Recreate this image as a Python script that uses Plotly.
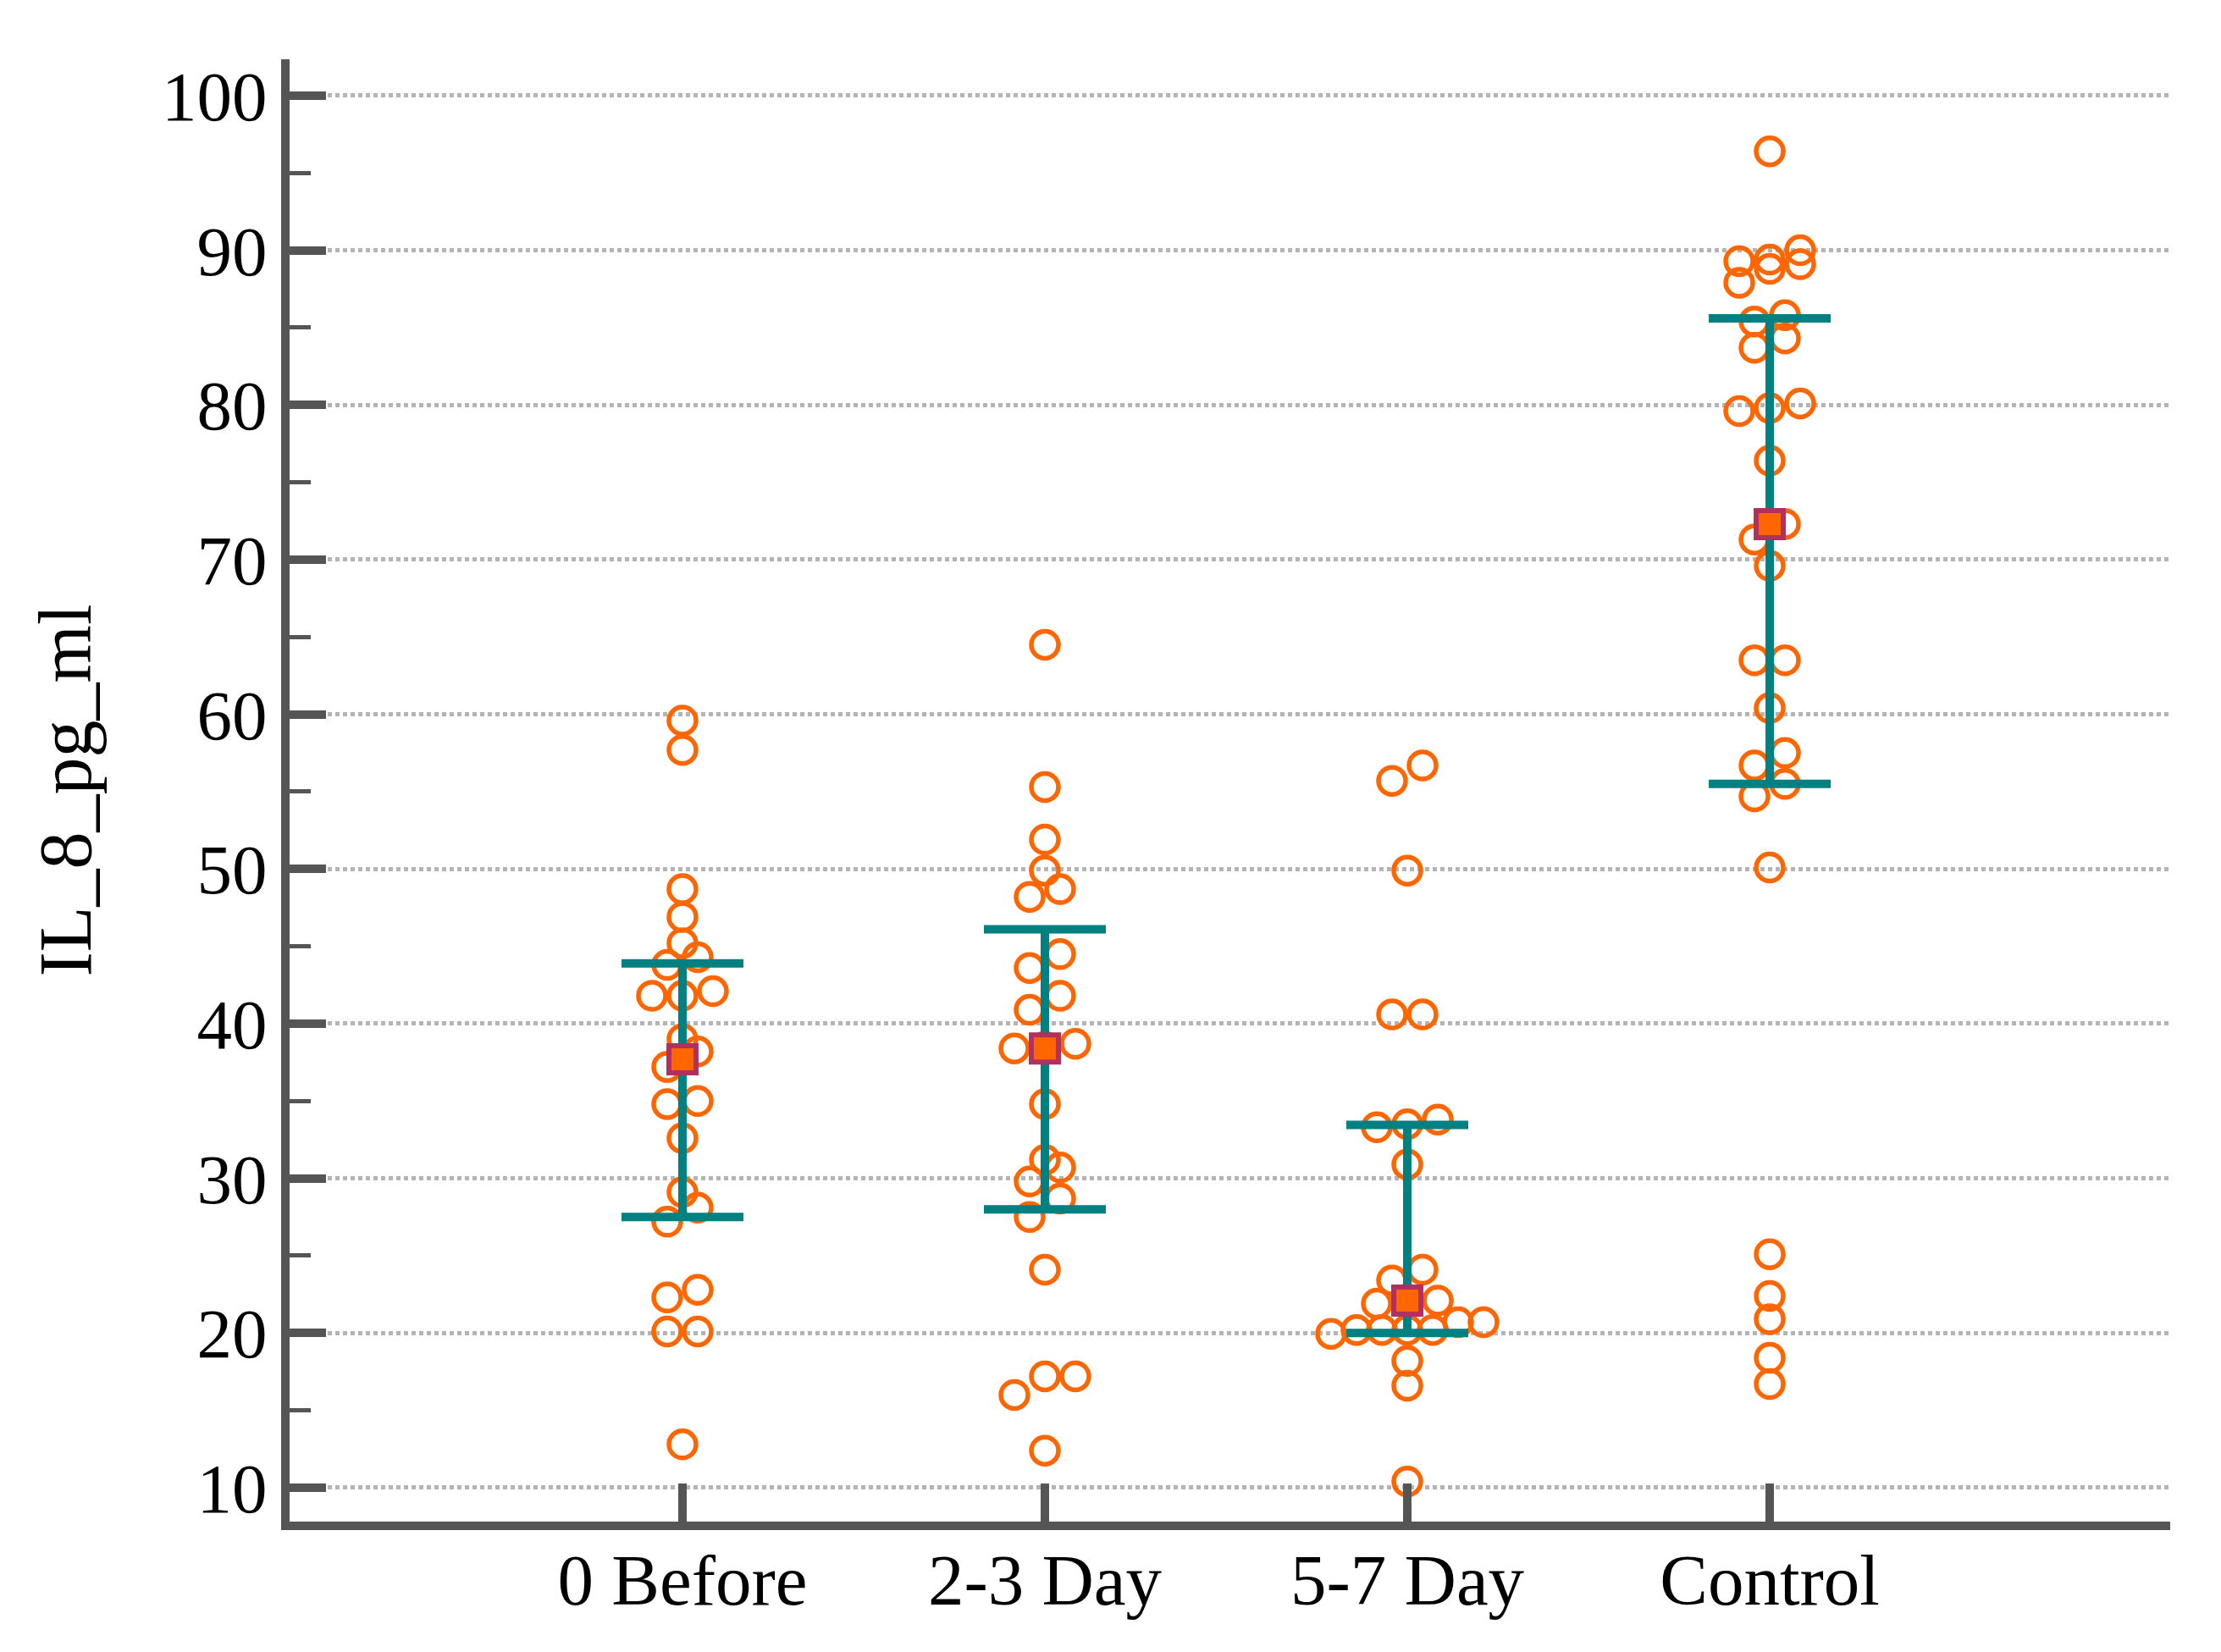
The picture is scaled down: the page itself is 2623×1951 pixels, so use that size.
import plotly.graph_objects as go

# ---------------- data ----------------
categories = ["0 Before", "2-3 Day", "5-7 Day", "Control"]

before_0 = [59.6, 57.7, 48.7, 46.9, 45.2, 44.3, 43.8, 41.8, 41.8, 42.1, 39.0, 38.2,
            37.2, 34.8, 35.0, 32.6, 29.1, 28.1, 27.2, 22.3, 22.8, 20.1, 20.1, 12.8]
day_2_3 = [64.5, 55.3, 51.9, 49.9, 48.7, 48.2, 44.5, 43.6, 41.8, 40.9, 38.7, 38.5,
           38.4, 34.8, 31.2, 30.7, 29.8, 28.7, 27.5, 24.1, 17.2, 17.2, 16.0, 12.4]
day_5_7 = [56.7, 55.7, 49.9, 40.6, 40.6, 33.8, 33.5, 33.3, 30.9, 24.1, 23.4, 22.1,
           22.0, 21.9, 20.7, 20.7, 20.2, 20.2, 20.2, 20.2, 19.95, 18.2, 16.6, 10.4]
control = [96.4, 90.0, 89.4, 89.3, 89.1, 88.8, 87.9, 85.8, 85.4, 84.3, 83.7, 80.1,
           79.8, 79.6, 76.4, 72.3, 71.3, 69.6, 63.5, 63.5, 60.4, 57.5, 56.7, 55.5,
           54.7, 50.1, 25.1, 22.4, 20.9, 18.4, 16.7]
groups = [before_0, day_2_3, day_5_7, control]

medians = [37.7, 38.4, 22.1, 72.3]
q1 = [27.5, 28.0, 20.0, 55.5]
q3 = [43.9, 46.1, 33.45, 85.6]

y_tick_values = [10, 20, 30, 40, 50, 60, 70, 80, 90, 100]

# ---------------- layout / style ----------------
W, H = 2623, 1951
BODY = 8                      # default page margin of the html body
L, R, T, B = 342, 2563, 70, 1797   # target plot-area edges on the page
XMIN, XMAX = -1.084, 4.105
YMIN, YMAX = 7.81, 102.35

ORANGE = "#FF6600"
TEAL = "#008080"
MAGENTA = "#B03060"
AXIS = "#555555"
GRID = "#B4B4B4"
FONT = "Liberation Serif"

MARKER_OUTER_PX = 36.0
CLUSTER_GAP = 1.3          # y-units: values closer than this share a row
px_per_x = (R - L) / (XMAX - XMIN)
STEP = MARKER_OUTER_PX / px_per_x
MAX_SPAN = 5 * STEP


def swarm_offsets(vals):
    order = sorted(range(len(vals)), key=lambda i: vals[i])
    clusters = []
    for i in order:
        if clusters and vals[i] - vals[clusters[-1][0]] <= CLUSTER_GAP:
            clusters[-1].append(i)
        else:
            clusters.append([i])
    offs = [0.0] * len(vals)
    for c in clusters:
        n = len(c)
        s = STEP if n <= 1 else min(STEP, MAX_SPAN / (n - 1))
        for k, i in enumerate(c):
            offs[i] = (k - (n - 1) / 2) * s
    return offs


xs, ys = [], []
for gi, vals in enumerate(groups):
    offs = swarm_offsets(vals)
    for v, o in zip(vals, offs):
        xs.append(gi + o)
        ys.append(v)

fig = go.Figure()
fig.add_trace(go.Scatter(
    x=xs, y=ys, mode="markers",
    marker=dict(symbol="circle-open", size=32, color=ORANGE,
                line=dict(width=5.5, color=ORANGE)),
    hoverinfo="y", showlegend=False))

pos = list(range(len(categories)))
fig.add_trace(go.Scatter(
    x=pos, y=medians, mode="markers",
    marker=dict(symbol="square", size=32, color=ORANGE,
                line=dict(width=6, color=MAGENTA)),
    error_y=dict(type="data", symmetric=False,
                 array=[h - m for h, m in zip(q3, medians)],
                 arrayminus=[m - l for m, l in zip(medians, q1)],
                 color=TEAL, thickness=10, width=72),
    showlegend=False))

FW, FH = W - 2 * BODY, H - 2 * BODY
fig.update_layout(
    width=FW, height=FH,
    margin=dict(l=L - BODY, r=FW - (R - BODY), t=T - BODY, b=FH - (B - BODY), pad=0),
    paper_bgcolor="white", plot_bgcolor="white",
    font=dict(family=FONT, size=83, color="black"),
    showlegend=False,
)
fig.update_xaxes(
    range=[XMIN, XMAX], tickvals=pos, ticktext=categories,
    showgrid=False, zeroline=False,
    showline=True, linecolor=AXIS, linewidth=10,
    ticks="inside", ticklen=45, tickwidth=10, tickcolor=AXIS,
    tickfont=dict(family=FONT, size=85, color="black"),
    ticklabelstandoff=-14,
)
fig.update_yaxes(
    range=[YMIN, YMAX], tickvals=y_tick_values,
    showgrid=True, gridcolor=GRID, gridwidth=4.5, griddash="4.5px,4.5px",
    zeroline=False,
    showline=True, linecolor=AXIS, linewidth=10,
    ticks="inside", ticklen=43, tickwidth=10, tickcolor=AXIS,
    minor=dict(dtick=5, tick0=0, ticks="inside", ticklen=25, tickwidth=5,
               tickcolor=AXIS, showgrid=False),
    tickfont=dict(family=FONT, size=83, color="black"),
    title=dict(text="IL_8_pg_ml", font=dict(family=FONT, size=88, color="black"),
               standoff=58),
)

fig.write_html("out.html")
